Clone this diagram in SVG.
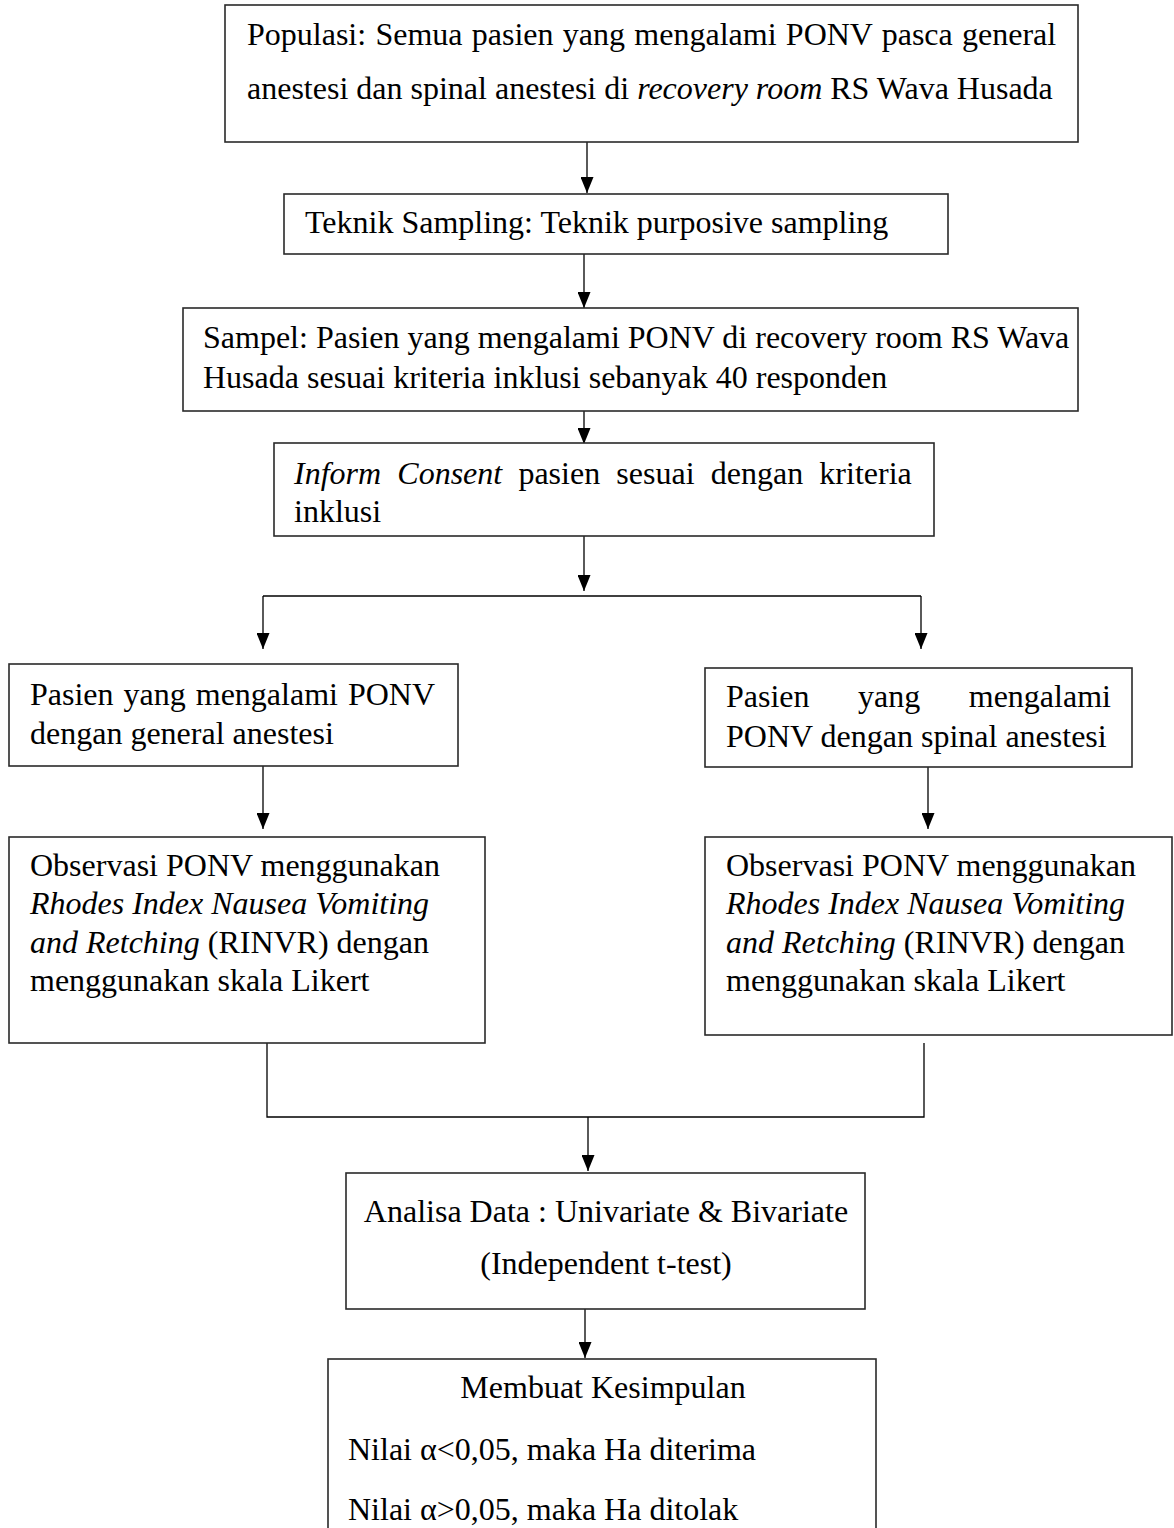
<svg xmlns="http://www.w3.org/2000/svg" width="1174" height="1528" viewBox="0 0 1174 1528">
<style>
.box{fill:#fff;stroke:#2a2a2a;stroke-width:1.6}
text{font-family:"Liberation Serif","Times New Roman",serif;font-size:32px;fill:#000}
.i{font-style:italic}
.c{text-anchor:middle}
.ln{fill:none;stroke:#000;stroke-width:1.3}
</style>
<defs>
<marker id="ah" markerUnits="userSpaceOnUse" markerWidth="16" markerHeight="13" viewBox="0 0 16 13" refX="16" refY="6.5" orient="auto">
<path d="M0,0 L16,6.5 L0,13 Z" fill="#000"/>
</marker>
</defs>
<rect width="1174" height="1528" fill="#fff"/>

<g id="connectors">
<line class="ln" x1="587" y1="142" x2="587" y2="193" marker-end="url(#ah)"/>
<line class="ln" x1="584" y1="254" x2="584" y2="308" marker-end="url(#ah)"/>
<line class="ln" x1="584" y1="411" x2="584" y2="444" marker-end="url(#ah)"/>
<line class="ln" x1="584" y1="536" x2="584" y2="591" marker-end="url(#ah)"/>
<line class="ln" x1="263" y1="596" x2="921" y2="596"/>
<line class="ln" x1="263" y1="596" x2="263" y2="649" marker-end="url(#ah)"/>
<line class="ln" x1="921" y1="596" x2="921" y2="649" marker-end="url(#ah)"/>
<line class="ln" x1="263" y1="766" x2="263" y2="829" marker-end="url(#ah)"/>
<line class="ln" x1="928" y1="767" x2="928" y2="829" marker-end="url(#ah)"/>
<path class="ln" d="M267,1043 V1117 H924 V1043"/>
<line class="ln" x1="588" y1="1117" x2="588" y2="1171" marker-end="url(#ah)"/>
<line class="ln" x1="585" y1="1309" x2="585" y2="1358" marker-end="url(#ah)"/>
</g>

<g id="populasi">
<rect class="box" x="225" y="5" width="853" height="137"/>
<text x="247" y="45" style="word-spacing:1.3px">Populasi: Semua pasien yang mengalami PONV pasca general</text>
<text x="247" y="99">anestesi dan spinal anestesi di <tspan class="i">recovery room</tspan> RS Wava Husada</text>
</g>

<g id="teknik">
<rect class="box" x="284" y="194" width="664" height="60"/>
<text x="305" y="233">Teknik Sampling: Teknik purposive sampling</text>
</g>

<g id="sampel">
<rect class="box" x="183" y="308" width="895" height="103"/>
<text x="203" y="348">Sampel: Pasien yang mengalami PONV di recovery room RS Wava</text>
<text x="203" y="388">Husada sesuai kriteria inklusi sebanyak 40 responden</text>
</g>

<g id="inform">
<rect class="box" x="274" y="443" width="660" height="93"/>
<text x="294" y="484" style="word-spacing:8.2px"><tspan class="i">Inform Consent</tspan> pasien sesuai dengan kriteria</text>
<text x="294" y="522">inklusi</text>
</g>

<g id="pasien-general">
<rect class="box" x="9" y="664" width="449" height="102"/>
<text x="30" y="705" style="word-spacing:2px">Pasien yang mengalami PONV</text>
<text x="30" y="744">dengan general anestesi</text>
</g>

<g id="pasien-spinal">
<rect class="box" x="705" y="668" width="427" height="99"/>
<text x="726" y="707" style="word-spacing:40.5px">Pasien yang mengalami</text>
<text x="726" y="747">PONV dengan spinal anestesi</text>
</g>

<g id="observasi-general">
<rect class="box" x="9" y="837" width="476" height="206"/>
<text x="30" y="876">Observasi PONV menggunakan</text>
<text x="30" y="914" class="i">Rhodes Index Nausea Vomiting</text>
<text x="30" y="953"><tspan class="i">and Retching</tspan> (RINVR) dengan</text>
<text x="30" y="991">menggunakan skala Likert</text>
</g>

<g id="observasi-spinal">
<rect class="box" x="705" y="837" width="467" height="198"/>
<text x="726" y="876">Observasi PONV menggunakan</text>
<text x="726" y="914" class="i">Rhodes Index Nausea Vomiting</text>
<text x="726" y="953"><tspan class="i">and Retching</tspan> (RINVR) dengan</text>
<text x="726" y="991">menggunakan skala Likert</text>
</g>

<g id="analisa">
<rect class="box" x="346" y="1173" width="519" height="136"/>
<text x="606" y="1222" class="c">Analisa Data : Univariate &amp; Bivariate</text>
<text x="606" y="1274" class="c">(Independent t-test)</text>
</g>

<g id="kesimpulan">
<rect class="box" x="328" y="1359" width="548" height="190"/>
<text x="603" y="1398" class="c">Membuat Kesimpulan</text>
<text x="348" y="1460">Nilai α&lt;0,05, maka Ha diterima</text>
<text x="348" y="1520">Nilai α&gt;0,05, maka Ha ditolak</text>
</g>
</svg>
